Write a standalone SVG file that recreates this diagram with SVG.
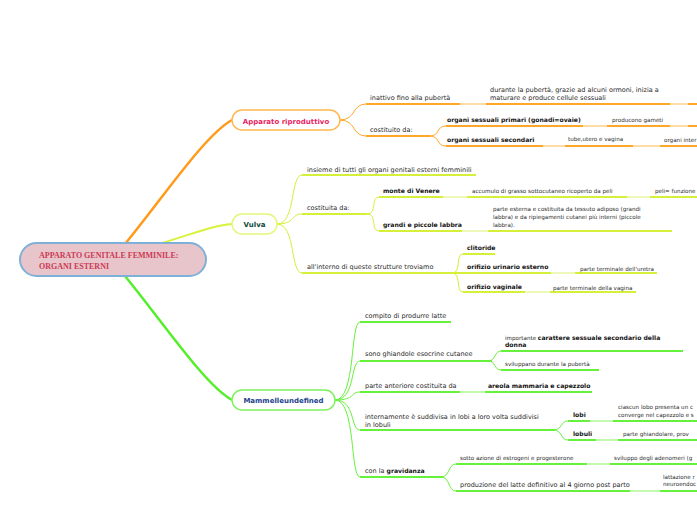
<svg xmlns="http://www.w3.org/2000/svg" width="697" height="520" viewBox="0 0 697 520">
<style>
.t{font-family:"DejaVu Sans",Verdana,sans-serif;font-size:6.5px;fill:#2a2a2a}
.s{font-family:"DejaVu Sans",Verdana,sans-serif;font-size:5.6px;fill:#2a2a2a}
.b{font-family:"DejaVu Sans",Verdana,sans-serif;font-size:6.1px;font-weight:bold;fill:#111}
.n{font-family:"DejaVu Sans",Verdana,sans-serif;font-size:7px;font-weight:bold;text-anchor:middle}
.o{fill:none;stroke:#ffa726;stroke-width:2}
.ol{fill:none;stroke:#ffdca8;stroke-width:2}
.y{fill:none;stroke:#d6f03a;stroke-width:2}
.yl{fill:none;stroke:#eef8b8;stroke-width:2}
.g{fill:none;stroke:#66f23c;stroke-width:2}
.gl{fill:none;stroke:#c4fab0;stroke-width:2}
.c{fill:none;stroke-width:1}
</style>
<rect width="697" height="520" fill="#fff"/>
<g id="connectors">
  <path d="M125,244 C165,195 205,135 232,120" fill="none" stroke="#ff9a1a" stroke-width="2.5"/>
  <path d="M162,243 C195,233 215,225 232,224" fill="none" stroke="#d9f23c" stroke-width="2"/>
  <path d="M125,276 C165,325 205,385 232,400" fill="none" stroke="#55ee2a" stroke-width="2.5"/>
  <!-- Apparato -->
  <path class="o c" d="M340,120 C356,120 352,104 366,104"/>
  <path class="o c" d="M340,120 C356,120 352,136 366,136"/>
  <path class="o" d="M366,104 H460"/><path class="ol" d="M460,104 H486"/><path class="o" d="M486,104 H670"/><path class="ol" d="M670,104 H688"/><path class="o" d="M688,104 H697"/>
  <path class="o" d="M366,136 H430"/>
  <path class="o c" d="M430,136 C440,136 436,126 446,126"/>
  <path class="o c" d="M430,136 C440,136 436,146 446,146"/>
  <path class="o" d="M446,126 H583"/><path class="ol" d="M583,126 H607"/><path class="o" d="M607,126 H670"/><path class="ol" d="M670,126 H688"/><path class="o" d="M688,126 H697"/>
  <path class="o" d="M446,146 H543"/><path class="ol" d="M543,146 H565"/><path class="o" d="M565,146 H633"/><path class="ol" d="M633,146 H660"/><path class="o" d="M660,146 H697"/>
  <!-- Vulva -->
  <path class="y c" d="M277,224 C296,224 290,175 302,175"/>
  <path class="y c" d="M277,224 C296,224 290,214 302,214"/>
  <path class="y c" d="M277,224 C296,224 290,273 302,273"/>
  <path class="y" d="M302,175 H476"/>
  <path class="y" d="M302,214 H367"/>
  <path class="y c" d="M367,214 C378,214 370,197 379,197"/>
  <path class="y c" d="M367,214 C378,214 370,231 379,231"/>
  <path class="y" d="M379,197 H443"/><path class="yl" d="M443,197 H467"/><path class="y" d="M467,197 H627"/><path class="yl" d="M627,197 H650"/><path class="y" d="M650,197 H697"/>
  <path class="y" d="M379,231 H462"/><path class="yl" d="M462,231 H488"/><path class="y" d="M488,231 H672"/>
  <path class="y" d="M302,273 H452"/>
  <path class="y c" d="M452,273 C462,273 455,254 463,254"/>
  <path class="y c" d="M452,273 C462,273 455,292 463,292"/>
  <path class="y" d="M463,254 H495"/>
  <path class="y" d="M452,273 H551"/><path class="yl" d="M551,273 H575"/><path class="y" d="M575,273 H657"/>
  <path class="y" d="M463,292 H525"/><path class="yl" d="M525,292 H550"/><path class="y" d="M550,292 H636"/>
  <!-- Mammelle -->
  <path class="g c" d="M335,400 C356,400 350,322 360,322"/>
  <path class="g c" d="M335,400 C356,400 350,361 360,361"/>
  <path class="g c" d="M335,400 C356,400 350,392 360,392"/>
  <path class="g c" d="M335,400 C356,400 350,430 360,430"/>
  <path class="g c" d="M335,400 C356,400 350,477 360,477"/>
  <path class="g" d="M360,322 H451"/>
  <path class="g" d="M360,361 H492"/>
  <path class="g c" d="M488,361 C496,361 494,351 501,351"/>
  <path class="g c" d="M488,361 C496,361 494,370 501,370"/>
  <path class="g" d="M501,351 H683"/>
  <path class="g" d="M501,370 H599"/>
  <path class="g" d="M360,392 H460"/><path class="gl" d="M460,392 H485"/><path class="g" d="M485,392 H592"/>
  <path class="g" d="M360,430 H555"/>
  <path class="g c" d="M553,430 C563,430 560,421 568,421"/>
  <path class="g c" d="M553,430 C563,430 560,440 568,440"/>
  <path class="g" d="M568,421 H590"/><path class="gl" d="M590,421 H613"/><path class="g" d="M613,421 H697"/>
  <path class="g" d="M568,440 H596"/><path class="gl" d="M596,440 H618"/><path class="g" d="M618,440 H697"/>
  <path class="g" d="M360,477 H443"/>
  <path class="g c" d="M441,477 C450,477 448,464 456,464"/>
  <path class="g c" d="M441,477 C450,477 448,491 456,491"/>
  <path class="g" d="M456,464 H587"/><path class="gl" d="M587,464 H610"/><path class="g" d="M610,464 H697"/>
  <path class="g" d="M456,491 H630"/><path class="gl" d="M630,491 H660"/><path class="g" d="M660,491 H697"/>
</g>
<g id="central">
  <rect x="20" y="243" width="186" height="33" rx="16.5" fill="#e8c5ca" stroke="#7fb0d8" stroke-width="2"/>
  <text x="39" y="258" font-family="'Liberation Serif',serif" font-size="8" font-weight="bold" fill="#cc3a55">APPARATO GENITALE FEMMINILE:</text>
  <text x="39" y="269" font-family="'Liberation Serif',serif" font-size="8" font-weight="bold" fill="#cc3a55">ORGANI ESTERNI</text>
</g>
<g id="apparato">
  <rect x="232" y="110" width="108" height="20" rx="10" fill="#fff" stroke="#ffb84d" stroke-width="1.5"/>
  <text class="n" x="286" y="123.5" fill="#e91e63">Apparato riproduttivo</text>
</g>
<g id="apparato-children">
  <text class="t" x="370" y="100">inattivo fino alla pubertà</text>
  <text class="t" x="490" y="92">durante la pubertà, grazie ad alcuni ormoni, inizia a</text>
  <text class="t" x="490" y="100">maturare e produce cellule sessuali</text>
  <text class="t" x="370" y="132">costituito da:</text>
  <text class="b" x="447" y="122">organi sessuali primari (gonadi=ovaie)</text>
  <text class="s" x="612" y="122">producono gameti</text>
  <text class="b" x="447" y="142">organi sessuali secondari</text>
  <text class="s" x="568" y="141">tube,utero e vagina</text>
  <text class="s" x="664" y="142">organi inter</text>
</g>
<g id="vulva">
  <rect x="232" y="214" width="45" height="20" rx="10" fill="#fff" stroke="#e4f67a" stroke-width="1.5"/>
  <text class="n" x="254.5" y="227" fill="#0d4a3c">Vulva</text>
</g>
<g id="vulva-children">
  <text class="t" x="307" y="172">insieme di tutti gli organi genitali esterni femminili</text>
  <text class="t" x="307" y="210">costituita da:</text>
  <text class="b" x="383" y="193">monte di Venere</text>
  <text class="s" x="472" y="193">accumulo di grasso sottocutaneo ricoperto da peli</text>
  <text class="s" x="655" y="193">peli= funzione</text>
  <text class="b" x="383" y="227">grandi e piccole labbra</text>
  <text class="s" x="493" y="211">parte esterna e costituita da tessuto adiposo (grandi</text>
  <text class="s" x="493" y="219">labbra) e da ripiegamenti cutanei più interni (piccole</text>
  <text class="s" x="493" y="227">labbra).</text>
  <text class="t" x="307" y="269">all'interno di queste strutture troviamo</text>
  <text class="b" x="467" y="250">clitoride</text>
  <text class="b" x="467" y="269">orifizio urinario esterno</text>
  <text class="s" x="580" y="271">parte terminale dell'uretra</text>
  <text class="b" x="467" y="289">orifizio vaginale</text>
  <text class="s" x="553" y="290">parte terminale della vagina</text>
</g>
<g id="mammelle">
  <rect x="232" y="390" width="103" height="20" rx="10" fill="#fff" stroke="#7cf25a" stroke-width="1.5"/>
  <text class="n" x="283.5" y="403" fill="#22428c">Mammelleundefined</text>
</g>
<g id="mammelle-children">
  <text class="t" x="365" y="318">compito di produrre latte</text>
  <text class="t" x="365" y="356">sono ghiandole esocrine cutanee</text>
  <text x="505" y="340"><tspan class="s" font-size="5">importante </tspan><tspan class="b">carattere sessuale secondario della</tspan></text>
  <text class="b" x="505" y="347">donna</text>
  <text class="s" x="505" y="366">sviluppano durante la pubertà</text>
  <text class="t" x="365" y="388">parte anteriore costituita da</text>
  <text class="b" x="488" y="388">areola mammaria e capezzolo</text>
  <text class="t" x="365" y="419">internamente è suddivisa in lobi a loro volta suddivisi</text>
  <text class="t" x="365" y="427">in lobuli</text>
  <text class="b" x="573" y="417">lobi</text>
  <text class="s" x="618" y="409">ciascun lobo presenta un c</text>
  <text class="s" x="618" y="417">converge nel capezzolo e s</text>
  <text class="b" x="573" y="436">lobuli</text>
  <text class="s" x="623" y="436">parte ghiandolare, prov</text>
  <text x="365" y="473"><tspan class="t">con la </tspan><tspan class="b" font-size="6.5">gravidanza</tspan></text>
  <text class="s" x="460" y="460">sotto azione di estrogeni e progesterone</text>
  <text class="s" x="614" y="460">sviluppo degli adenomeri (g</text>
  <text class="t" x="460" y="487">produzione del latte definitivo al 4 giorno post parto</text>
  <text class="s" x="663" y="479">lattazione r</text>
  <text class="s" x="663" y="486">neuroendoc</text>
</g>
</svg>
